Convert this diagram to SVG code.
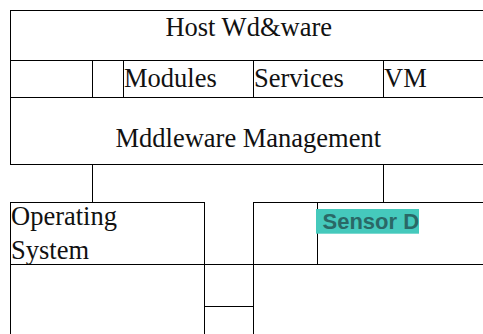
<svg xmlns="http://www.w3.org/2000/svg" width="483" height="334" viewBox="0 0 483 334">
<defs>
<style>
.b{fill:#fff;stroke:#000;stroke-width:1}
.t{font-family:"Liberation Sans",Arial,sans-serif;font-size:26.5px;fill:#111}
.t{font-family:"Liberation Serif","Times New Roman",serif}
.c{stroke:#000;stroke-width:1;fill:none}
.s{font-family:"Liberation Sans",Arial,sans-serif;font-size:22px;font-weight:bold;fill:#2a6866}
</style>
<clipPath id="sclip"><rect x="316" y="209" width="103" height="24.7"/></clipPath>
</defs>
<rect width="483" height="334" fill="#fff"/>
<g id="host-hardware">
<rect class="b" x="10.5" y="10.5" width="480" height="50"/>
<text class="t" x="248.7" y="35.7" text-anchor="middle">Host Wd&amp;ware</text>
</g>
<g id="row-cell-1"><rect class="b" x="10.5" y="60.5" width="82" height="37"/></g>
<g id="row-cell-2"><rect class="b" x="92.5" y="60.5" width="31" height="37"/></g>
<g id="modules">
<rect class="b" x="123.5" y="60.5" width="130" height="37"/>
<text class="t" x="124" y="86.7">Modules</text>
</g>
<g id="services">
<rect class="b" x="253.5" y="60.5" width="130" height="37"/>
<text class="t" x="254" y="86.7">Services</text>
</g>
<g id="vm">
<rect class="b" x="383.5" y="60.5" width="110" height="37"/>
<text class="t" x="384" y="86.7">VM</text>
</g>
<g id="middleware-management">
<rect class="b" x="10.5" y="97.5" width="480" height="67"/>
<text class="t" x="248.3" y="146.7" text-anchor="middle">Mddleware Management</text>
</g>
<g id="connectors">
<line class="c" x1="92.5" y1="164.5" x2="92.5" y2="202.5"/>
<line class="c" x1="383.5" y1="164.5" x2="383.5" y2="202.5"/>
</g>
<g id="operating-system">
<rect class="b" x="10.5" y="202.5" width="194" height="62"/>
<text class="t" x="11" y="225">Operating</text>
<text class="t" x="11" y="259">System</text>
</g>
<g id="sensor-left-cell"><rect class="b" x="253.5" y="202.5" width="64" height="62"/></g>
<g id="sensor-driver">
<rect class="b" x="317.5" y="202.5" width="180" height="62"/>
<rect x="316" y="209" width="103" height="24.7" fill="#45c9bc"/>
<text class="s" x="322.5" y="229" clip-path="url(#sclip)">Sensor D</text>
</g>
<g id="bottom-left"><rect class="b" x="10.5" y="264.5" width="194" height="80"/></g>
<g id="bottom-middle-top"><rect class="b" x="204.5" y="264.5" width="49" height="42"/></g>
<g id="bottom-middle-bottom"><rect class="b" x="204.5" y="306.5" width="49" height="40"/></g>
<g id="bottom-right"><rect class="b" x="253.5" y="264.5" width="240" height="80"/></g>
</svg>
